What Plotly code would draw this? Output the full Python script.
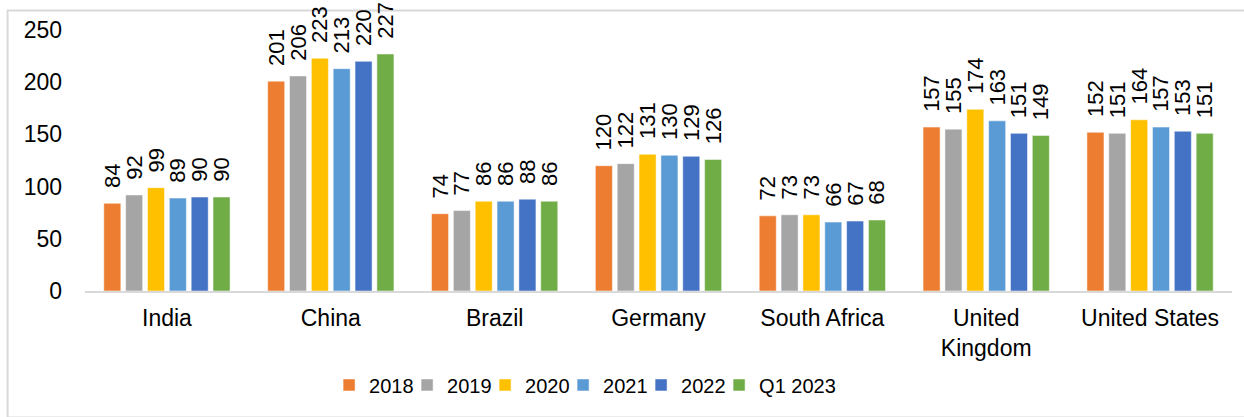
import plotly.graph_objects as go

countries = ["India", "China", "Brazil", "Germany", "South Africa", "United Kingdom", "United States"]
tick_text = ["India", "China", "Brazil", "Germany", "South Africa", "United<br>Kingdom", "United States"]

series_names = ["2018", "2019", "2020", "2021", "2022", "Q1 2023"]
values_2018 = [84, 201, 74, 120, 72, 157, 152]
values_2019 = [92, 206, 77, 122, 73, 155, 151]
values_2020 = [99, 223, 86, 131, 73, 174, 164]
values_2021 = [89, 213, 86, 130, 66, 163, 157]
values_2022 = [90, 220, 88, 129, 67, 151, 153]
values_q1_2023 = [90, 227, 86, 126, 68, 149, 151]

colors = ["#ED7D31", "#A5A5A5", "#FFC000", "#5B9BD5", "#4472C4", "#70AD47"]
all_values = [values_2018, values_2019, values_2020, values_2021, values_2022, values_q1_2023]

FONT = "Liberation Sans, Arial, sans-serif"
# leading non-breaking spaces push the rotated labels a little further above the bars
LABEL_PAD = "\u00a0\u00a0"

fig = go.Figure()
for name, vals, color in zip(series_names, all_values, colors):
    fig.add_trace(
        go.Bar(
            name=name,
            x=countries,
            y=vals,
            marker={"color": color, "line": {"color": "white", "width": 0.5}},
            text=[LABEL_PAD + str(v) for v in vals],
            textposition="outside",
            textangle=-90,
            constraintext="none",
            cliponaxis=False,
            textfont={"family": FONT, "size": 22, "color": "black"},
        )
    )

# invisible legend spacer so the last entry's text is not clipped
fig.add_trace(
    go.Scatter(
        x=[None],
        y=[None],
        mode="markers",
        name=" ",
        marker={"color": "rgba(0,0,0,0)"},
        hoverinfo="skip",
    )
)

fig.update_layout(
    width=1244,
    height=417,
    template="plotly_white",
    plot_bgcolor="white",
    paper_bgcolor="white",
    barmode="group",
    bargap=0.2,
    bargroupgap=0.22,
    font={"family": FONT, "size": 23, "color": "black"},
    margin={"l": 84.5, "r": 11.5, "t": 30, "b": 126},
    legend={
        "orientation": "h",
        "x": 0.2128,
        "xanchor": "left",
        "y": -0.36,
        "yanchor": "middle",
        "font": {"family": FONT, "size": 20, "color": "black"},
        "itemwidth": 30,
        "entrywidth": 33,
        "entrywidthmode": "pixels",
    },
    shapes=[
        {
            "type": "rect",
            "xref": "paper",
            "yref": "paper",
            "x0": -0.0675,
            "x1": 1.03,
            "y0": -0.485,
            "y1": 1.0745,
            "line": {"color": "#D9D9D9", "width": 2},
            "layer": "below",
        }
    ],
)
fig.update_xaxes(
    tickvals=countries,
    ticktext=tick_text,
    showgrid=False,
    showline=True,
    linecolor="#D9D9D9",
    linewidth=2,
    ticks="",
    automargin=False,
    ticklabelstandoff=5,
    tickfont={"family": FONT, "size": 23, "color": "black"},
)
fig.update_yaxes(
    range=[0, 250],
    dtick=50,
    showgrid=False,
    zeroline=False,
    showline=False,
    ticks="",
    automargin=False,
    ticklabelstandoff=22,
    tickfont={"family": FONT, "size": 23, "color": "black"},
)

# drop the browser's default body margin so the figure sits at the page corner
fig.write_html(
    "out.html",
    config={"displayModeBar": False},
    post_script="document.body.style.margin = '0';",
)
